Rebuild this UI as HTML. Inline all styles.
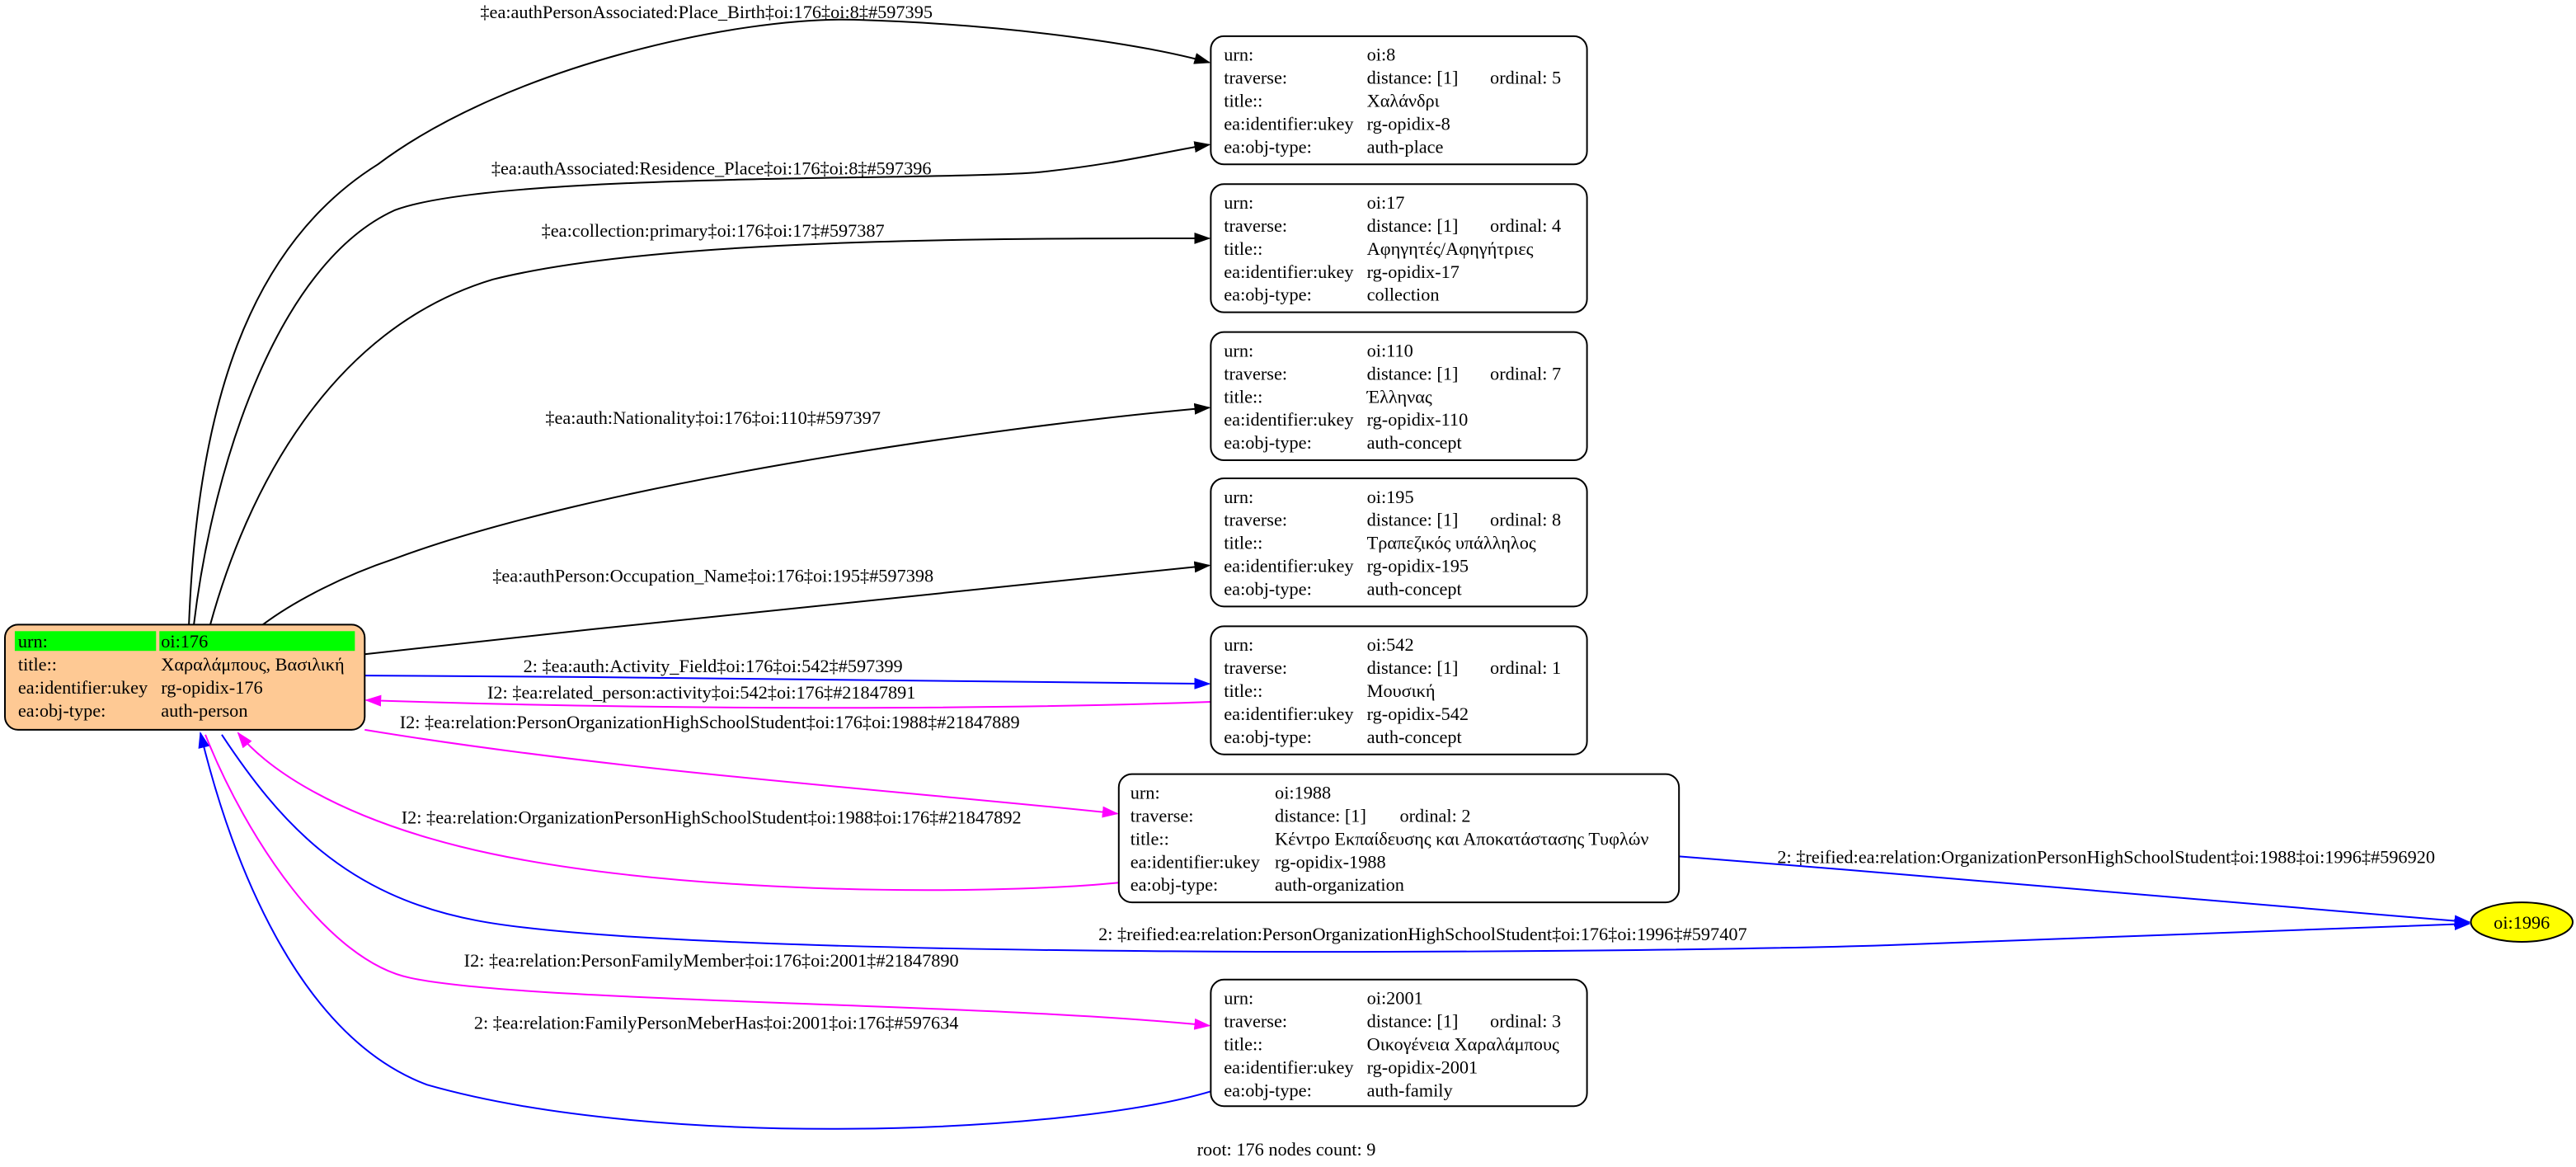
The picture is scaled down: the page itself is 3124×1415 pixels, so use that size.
<!DOCTYPE html>
<html><head><meta charset="utf-8"><style>
html,body{margin:0;padding:0;background:#fff;}
svg{display:block;}
text{font-family:"Liberation Serif",serif;font-size:11.2px;fill:#000;}
</style></head><body>
<svg width="3124" height="1415" viewBox="0 0 1568 710" preserveAspectRatio="none" xmlns="http://www.w3.org/2000/svg">
<defs>
<marker id="ak" markerWidth="10" markerHeight="8" refX="9" refY="4" orient="auto" markerUnits="userSpaceOnUse"><path d="M0,0.5 L10,4 L0,7.5z" fill="#000"/></marker>
<marker id="ab" markerWidth="10" markerHeight="8" refX="9" refY="4" orient="auto" markerUnits="userSpaceOnUse"><path d="M0,0.5 L10,4 L0,7.5z" fill="#00f"/></marker>
<marker id="am" markerWidth="10" markerHeight="8" refX="9" refY="4" orient="auto" markerUnits="userSpaceOnUse"><path d="M0,0.5 L10,4 L0,7.5z" fill="#f0f"/></marker>
</defs>
<g fill="none" stroke-width="1">
<path d="M115,380 C120,250 150,150 230,100 C310,40 450,10 520,12 C620,15 700,28 736,38" stroke="#000" marker-end="url(#ak)"/>
<path d="M118,380 C130,280 170,160 240,128 C300,105 560,110 630,105 C680,100 710,92 736,88" stroke="#000" marker-end="url(#ak)"/>
<path d="M128,380 C150,300 200,200 300,170 C400,145 600,145 736,145" stroke="#000" marker-end="url(#ak)"/>
<path d="M160,380 C180,365 210,350 240,340 C360,295 600,260 736,248" stroke="#000" marker-end="url(#ak)"/>
<path d="M222,398 C400,378 600,358 736,344" stroke="#000" marker-end="url(#ak)"/>
<path d="M222,411 C400,412 600,414 736,416" stroke="#00f" marker-end="url(#ab)"/>
<path d="M737,427 C600,432 400,432 223,426" stroke="#f0f" marker-end="url(#am)"/>
<path d="M222,444 C380,470 560,482 680,495" stroke="#f0f" marker-end="url(#am)"/>
<path d="M681,537 C600,545 400,545 280,515 C200,495 160,465 145,446" stroke="#f0f" marker-end="url(#am)"/>
<path d="M1022,521 C1200,535 1400,552 1503,561" stroke="#00f" marker-end="url(#ab)"/>
<path d="M135,447 C170,500 210,545 290,560 C420,585 1000,580 1150,575 C1300,570 1450,565 1503,562" stroke="#00f" marker-end="url(#ab)"/>
<path d="M125,447 C150,510 200,585 250,595 C320,610 600,610 736,624" stroke="#f0f" marker-end="url(#am)"/>
<path d="M737,664 C650,690 400,700 260,660 C180,630 140,520 122,446" stroke="#00f" marker-end="url(#ab)"/>
</g>
<g text-anchor="middle">
<text x="430" y="11">‡ea:authPersonAssociated:Place_Birth‡oi:176‡oi:8‡#597395</text>
<text x="433" y="106">‡ea:authAssociated:Residence_Place‡oi:176‡oi:8‡#597396</text>
<text x="434" y="144">‡ea:collection:primary‡oi:176‡oi:17‡#597387</text>
<text x="434" y="258">‡ea:auth:Nationality‡oi:176‡oi:110‡#597397</text>
<text x="434" y="354">‡ea:authPerson:Occupation_Name‡oi:176‡oi:195‡#597398</text>
<text x="434" y="409">2: ‡ea:auth:Activity_Field‡oi:176‡oi:542‡#597399</text>
<text x="427" y="425">I2: ‡ea:related_person:activity‡oi:542‡oi:176‡#21847891</text>
<text x="432" y="443">I2: ‡ea:relation:PersonOrganizationHighSchoolStudent‡oi:176‡oi:1988‡#21847889</text>
<text x="433" y="501">I2: ‡ea:relation:OrganizationPersonHighSchoolStudent‡oi:1988‡oi:176‡#21847892</text>
<text x="1282" y="525">2: ‡reified:ea:relation:OrganizationPersonHighSchoolStudent‡oi:1988‡oi:1996‡#596920</text>
<text x="866" y="572">2: ‡reified:ea:relation:PersonOrganizationHighSchoolStudent‡oi:176‡oi:1996‡#597407</text>
<text x="433" y="588">I2: ‡ea:relation:PersonFamilyMember‡oi:176‡oi:2001‡#21847890</text>
<text x="436" y="626">2: ‡ea:relation:FamilyPersonMeberHas‡oi:2001‡oi:176‡#597634</text>
<text x="783" y="703">root: 176 nodes count: 9</text>
</g>
<rect x="3" y="380" width="219" height="64" rx="8" fill="#fec994" stroke="#000"/>
<rect x="9" y="384" width="86" height="12" fill="#00ff00"/>
<rect x="97" y="384" width="119" height="12" fill="#00ff00"/>
<text x="11" y="394">urn:</text><text x="98" y="394">oi:176</text>
<text x="11" y="408">title::</text><text x="98" y="408">Χαραλάμπους, Βασιλική</text>
<text x="11" y="422">ea:identifier:ukey</text><text x="98" y="422">rg-opidix-176</text>
<text x="11" y="436">ea:obj-type:</text><text x="98" y="436">auth-person</text>
<g>
<rect x="737" y="22" width="229" height="78" rx="8" fill="#fff" stroke="#000"/>
<text x="745" y="37">urn:</text><text x="832" y="37">oi:8</text>
<text x="745" y="51">traverse:</text><text x="832" y="51">distance: [1]</text><text x="907" y="51">ordinal: 5</text>
<text x="745" y="65">title::</text><text x="832" y="65">Χαλάνδρι</text>
<text x="745" y="79">ea:identifier:ukey</text><text x="832" y="79">rg-opidix-8</text>
<text x="745" y="93">ea:obj-type:</text><text x="832" y="93">auth-place</text>
</g>
<g transform="translate(0,90)">
<rect x="737" y="22" width="229" height="78" rx="8" fill="#fff" stroke="#000"/>
<text x="745" y="37">urn:</text><text x="832" y="37">oi:17</text>
<text x="745" y="51">traverse:</text><text x="832" y="51">distance: [1]</text><text x="907" y="51">ordinal: 4</text>
<text x="745" y="65">title::</text><text x="832" y="65">Αφηγητές/Αφηγήτριες</text>
<text x="745" y="79">ea:identifier:ukey</text><text x="832" y="79">rg-opidix-17</text>
<text x="745" y="93">ea:obj-type:</text><text x="832" y="93">collection</text>
</g>
<g transform="translate(0,180)">
<rect x="737" y="22" width="229" height="78" rx="8" fill="#fff" stroke="#000"/>
<text x="745" y="37">urn:</text><text x="832" y="37">oi:110</text>
<text x="745" y="51">traverse:</text><text x="832" y="51">distance: [1]</text><text x="907" y="51">ordinal: 7</text>
<text x="745" y="65">title::</text><text x="832" y="65">Έλληνας</text>
<text x="745" y="79">ea:identifier:ukey</text><text x="832" y="79">rg-opidix-110</text>
<text x="745" y="93">ea:obj-type:</text><text x="832" y="93">auth-concept</text>
</g>
<g transform="translate(0,269)">
<rect x="737" y="22" width="229" height="78" rx="8" fill="#fff" stroke="#000"/>
<text x="745" y="37">urn:</text><text x="832" y="37">oi:195</text>
<text x="745" y="51">traverse:</text><text x="832" y="51">distance: [1]</text><text x="907" y="51">ordinal: 8</text>
<text x="745" y="65">title::</text><text x="832" y="65">Τραπεζικός υπάλληλος</text>
<text x="745" y="79">ea:identifier:ukey</text><text x="832" y="79">rg-opidix-195</text>
<text x="745" y="93">ea:obj-type:</text><text x="832" y="93">auth-concept</text>
</g>
<g transform="translate(0,359)">
<rect x="737" y="22" width="229" height="78" rx="8" fill="#fff" stroke="#000"/>
<text x="745" y="37">urn:</text><text x="832" y="37">oi:542</text>
<text x="745" y="51">traverse:</text><text x="832" y="51">distance: [1]</text><text x="907" y="51">ordinal: 1</text>
<text x="745" y="65">title::</text><text x="832" y="65">Μουσική</text>
<text x="745" y="79">ea:identifier:ukey</text><text x="832" y="79">rg-opidix-542</text>
<text x="745" y="93">ea:obj-type:</text><text x="832" y="93">auth-concept</text>
</g>
<g transform="translate(0,449)">
<rect x="681" y="22" width="341" height="78" rx="8" fill="#fff" stroke="#000"/>
<text x="688" y="37">urn:</text><text x="776" y="37">oi:1988</text>
<text x="688" y="51">traverse:</text><text x="776" y="51">distance: [1]</text><text x="852" y="51">ordinal: 2</text>
<text x="688" y="65">title::</text><text x="776" y="65">Κέντρο Εκπαίδευσης και Αποκατάστασης Τυφλών</text>
<text x="688" y="79">ea:identifier:ukey</text><text x="776" y="79">rg-opidix-1988</text>
<text x="688" y="93">ea:obj-type:</text><text x="776" y="93">auth-organization</text>
</g>
<g transform="translate(0,574)">
<rect x="737" y="22" width="229" height="77" rx="8" fill="#fff" stroke="#000"/>
<text x="745" y="37">urn:</text><text x="832" y="37">oi:2001</text>
<text x="745" y="51">traverse:</text><text x="832" y="51">distance: [1]</text><text x="907" y="51">ordinal: 3</text>
<text x="745" y="65">title::</text><text x="832" y="65">Οικογένεια Χαραλάμπους</text>
<text x="745" y="79">ea:identifier:ukey</text><text x="832" y="79">rg-opidix-2001</text>
<text x="745" y="93">ea:obj-type:</text><text x="832" y="93">auth-family</text>
</g>
<ellipse cx="1535" cy="561" rx="31" ry="12" fill="#ffff00" stroke="#000"/>
<text x="1535" y="565" text-anchor="middle">oi:1996</text>
</svg>
</body></html>
